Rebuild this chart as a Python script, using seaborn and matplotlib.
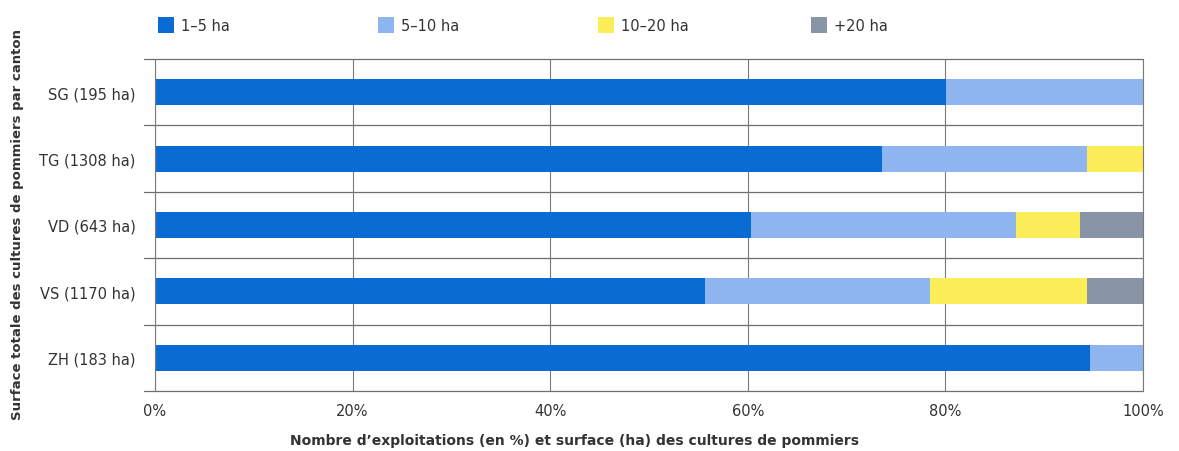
import matplotlib
matplotlib.use("Agg")
import matplotlib.pyplot as plt
import matplotlib.transforms as mtransforms
from matplotlib.patches import Patch
import seaborn as sns
import numpy as np
import pandas as pd

# ---- data ----
cantons = ["SG (195 ha)", "TG (1308 ha)", "VD (643 ha)", "VS (1170 ha)", "ZH (183 ha)"]
classes = ["1–5 ha", "5–10 ha", "10–20 ha", "+20 ha"]
share_1_5 = [80.1, 73.6, 60.3, 55.7, 94.6]
share_5_10 = [19.9, 20.7, 26.8, 22.7, 5.4]
share_10_20 = [0.0, 5.7, 6.5, 15.9, 0.0]
share_20p = [0.0, 0.0, 6.4, 5.7, 0.0]
colors = ["#0a6cd3", "#8fb5f0", "#fbee58", "#8895a6"]
xticks = [0, 20, 40, 60, 80, 100]
xticklabels = ["0%", "20%", "40%", "60%", "80%", "100%"]

sns.set_theme(style="white")
plt.rcParams["font.family"] = ["DejaVu Sans"]

series = [share_1_5, share_5_10, share_10_20, share_20p]
cum = np.cumsum(np.array(series), axis=0)
df = pd.DataFrame({"canton": cantons})
for i, c in enumerate(classes):
    df[c] = cum[i]

fig = plt.figure(figsize=(11.79, 4.52), dpi=100)
ax = fig.add_axes([155 / 1179, 1 - 392 / 452, (1143 - 155) / 1179, (392 - 60) / 452])

# draw from the largest cumulative to the smallest
for i in range(len(classes) - 1, -1, -1):
    sns.barplot(data=df, x=classes[i], y="canton", order=cantons, color=colors[i],
                saturation=1, width=0.39, orient="h", ax=ax, linewidth=0)

ax.set_xlim(0, 100)
ax.set_ylim(4.5, -0.5)
ax.set_xticks(xticks)
ax.set_xticklabels(xticklabels, fontsize=10.5, color="#333333")
ax.tick_params(axis="y", labelsize=10.5, labelcolor="#333333", length=0, pad=14)
ax.tick_params(axis="x", length=0, pad=9)
ax.xaxis.grid(True, color="#7a7a7a", linewidth=0.8)
ax.set_axisbelow(True)
for s in ["top", "bottom"]:
    ax.spines[s].set_visible(False)
for s in ["left", "right"]:
    ax.spines[s].set_color("#7a7a7a")
    ax.spines[s].set_linewidth(0.8)

# row separators, extending slightly left of the axis
trans = mtransforms.blended_transform_factory(ax.transAxes, ax.transData)
for yb in np.arange(-0.5, len(cantons), 1.0):
    ax.plot([-0.011, 1.0], [yb, yb], transform=trans, color="#6e6e6e",
            linewidth=0.9, clip_on=False, zorder=0.5)

ax.set_xlabel("")
ax.set_ylabel("")
fig.text(575 / 1179, 1 - 441 / 452,
         "Nombre d’exploitations (en %) et surface (ha) des cultures de pommiers",
         va="center", ha="center", fontsize=10, fontweight="bold", color="#333333")
fig.text(18 / 1179, 1 - 225 / 452, "Surface totale des cultures de pommiers par canton",
         rotation=90, va="center", ha="center", fontsize=9.5, fontweight="bold",
         color="#333333")

# legend: one entry per slot
legend_x = [152, 372, 592, 805]
for c, col, lx in zip(classes, colors, legend_x):
    leg = fig.legend(handles=[Patch(facecolor=col, edgecolor="none")], labels=[c],
                     loc="center left", bbox_to_anchor=(lx / 1179, 1 - 26 / 452),
                     frameon=False, fontsize=10.5, handlelength=1.1, handleheight=1.3,
                     handletextpad=0.5, borderaxespad=0)
    for t in leg.get_texts():
        t.set_color("#333333")

fig.savefig("out.png", dpi=100)
